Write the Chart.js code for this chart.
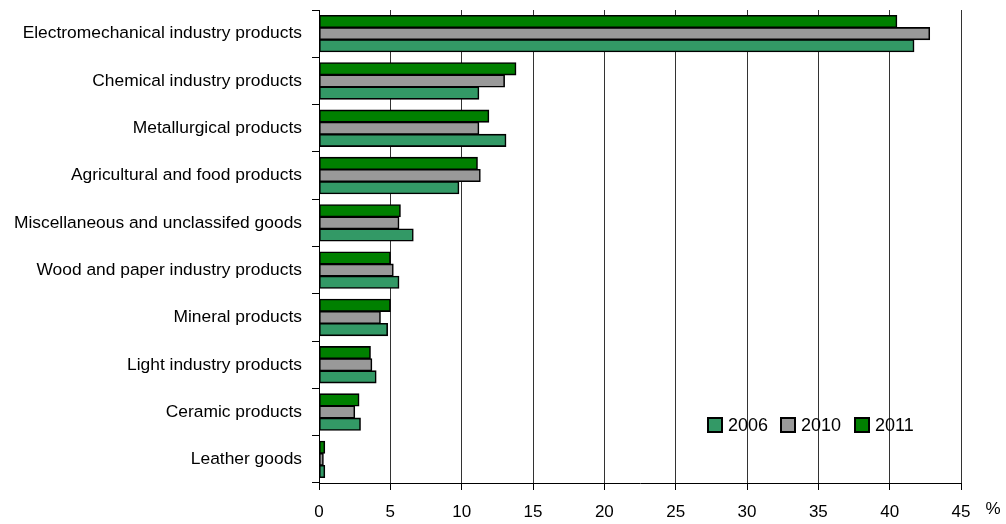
<!DOCTYPE html>
<html>
<head>
<meta charset="utf-8">
<script src="https://cdn.jsdelivr.net/npm/chart.js@4/dist/chart.umd.min.js"></script>
<style>
  html, body { margin: 0; padding: 0; background: #fff; }
  #wrap { width: 1006px; height: 524px; }
</style>
</head>
<body>
<div id="wrap"><canvas id="chart"></canvas></div>
<script>
// --- data ---
const categories = [
    'Electromechanical industry products',
    'Chemical industry products',
    'Metallurgical products',
    'Agricultural and food products',
    'Miscellaneous and unclassifed goods',
    'Wood and paper industry products',
    'Mineral products',
    'Light industry products',
    'Ceramic products',
    'Leather goods'
];
const years = ['2006', '2010', '2011'];
const values2006 = [41.7, 11.2, 13.1, 9.8, 6.6, 5.6, 4.8, 4.0, 2.9, 0.4];
const values2010 = [42.8, 13.0, 11.2, 11.3, 5.6, 5.2, 4.3, 3.7, 2.5, 0.3];
const values2011 = [40.5, 13.8, 11.9, 11.1, 5.7, 5.0, 5.0, 3.6, 2.8, 0.4];
const xTicks = [0, 5, 10, 15, 20, 25, 30, 35, 40, 45];

// --- colours ---
const colors = {
    '2006': '#339966',
    '2010': '#999999',
    '2011': '#008000'
};

const FONT = '"Liberation Sans", Arial, sans-serif';

// legend inside the plot + the "%" unit label
const extras = {
    id: 'extras',
    afterDraw(chart) {
        const ctx = chart.ctx;
        ctx.save();
        ctx.font = '18px ' + FONT;
        ctx.textBaseline = 'middle';
        ctx.textAlign = 'left';
        const items = [
            { year: years[0], x: 708 },
            { year: years[1], x: 781 },
            { year: years[2], x: 855 }
        ];
        items.forEach(it => {
            ctx.fillStyle = colors[it.year];
            ctx.fillRect(it.x, 418, 14, 14);
            ctx.lineWidth = 2;
            ctx.strokeStyle = '#000';
            ctx.strokeRect(it.x, 418, 14, 14);
            ctx.fillStyle = '#000';
            ctx.fillText(it.year, it.x + 20, 426);
        });
        ctx.font = '17px ' + FONT;
        ctx.textAlign = 'center';
        ctx.fillText('%', 993, 509);
        ctx.restore();
    }
};

function makeDataset(year, data) {
    return {
        label: year,
        data: data,
        backgroundColor: colors[year],
        borderColor: '#000',
        borderWidth: 1.6,
        borderSkipped: false,
        inflateAmount: 0.5,
        barPercentage: 1,
        categoryPercentage: 0.77
    };
}

new Chart(document.getElementById('chart'), {
    type: 'bar',
    data: {
        labels: categories,
        // 2011 on top of each group, 2006 at the bottom
        datasets: [
            makeDataset('2011', values2011),
            makeDataset('2010', values2010),
            makeDataset('2006', values2006)
        ]
    },
    options: {
        indexAxis: 'y',
        responsive: true,
        maintainAspectRatio: false,
        animation: false,
        layout: { padding: { top: 10, right: 45, bottom: 0, left: 0 } },
        plugins: {
            legend: { display: false },
            tooltip: { enabled: false }
        },
        scales: {
            x: {
                min: 0,
                max: 45,
                afterBuildTicks: scale => {
                    scale.ticks = xTicks.map(v => ({ value: v }));
                },
                afterFit: scale => { scale.height = 41; },
                grid: {
                    color: '#333',
                    lineWidth: 1,
                    tickLength: 7,
                    tickColor: '#000'
                },
                border: { color: '#000', width: 1 },
                ticks: {
                    padding: 12,
                    color: '#000',
                    font: { family: FONT, size: 17 },
                    maxRotation: 0
                }
            },
            y: {
                afterFit: scale => {
                    scale.width = 319;
                    // labels sit in the middle of each band, no overflow padding needed
                    scale.paddingTop = 0;
                    scale.paddingBottom = 0;
                },
                grid: {
                    offset: true,
                    drawOnChartArea: false,
                    tickLength: 7,
                    color: '#000'
                },
                border: { color: '#000', width: 1 },
                ticks: {
                    padding: 10,
                    color: '#000',
                    font: { family: FONT, size: 17.4 }
                }
            }
        }
    },
    plugins: [extras]
});
</script>
</body>
</html>
